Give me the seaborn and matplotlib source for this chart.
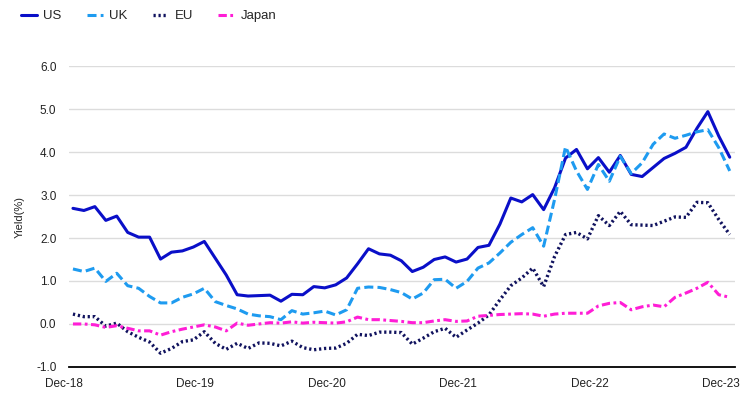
import numpy as np
import pandas as pd
import seaborn as sns
import matplotlib.pyplot as plt
from matplotlib.transforms import ScaledTranslation

# -------------------Data --------------------

# monthly 10y yields, Dec-18 .. Dec-23
us = [2.69, 2.64, 2.73, 2.41, 2.51, 2.13, 2.02, 2.02, 1.51, 1.67,
      1.70, 1.79, 1.92, 1.53, 1.14, 0.68, 0.65, 0.66, 0.67, 0.53,
      0.69, 0.68, 0.87, 0.84, 0.91, 1.07, 1.40, 1.75, 1.63, 1.60,
      1.47, 1.22, 1.32, 1.50, 1.56, 1.44, 1.51, 1.78, 1.83, 2.32,
      2.93, 2.84, 3.01, 2.66, 3.17, 3.86, 4.06, 3.61, 3.87, 3.53,
      3.92, 3.48, 3.43, 3.64, 3.85, 3.97, 4.11, 4.55, 4.94, 4.37,
      3.88]
uk = [1.28, 1.22, 1.30, 0.99, 1.18, 0.89, 0.83, 0.64, 0.49, 0.49,
      0.62, 0.70, 0.83, 0.52, 0.43, 0.35, 0.23, 0.19, 0.17, 0.10,
      0.31, 0.23, 0.26, 0.30, 0.21, 0.33, 0.83, 0.86, 0.85, 0.80,
      0.73, 0.58, 0.72, 1.03, 1.04, 0.83, 0.99, 1.30, 1.42, 1.65,
      1.90, 2.08, 2.24, 1.81, 2.90, 4.12, 3.56, 3.13, 3.71, 3.32,
      3.90, 3.50, 3.75, 4.18, 4.42, 4.32, 4.39, 4.47, 4.52, 4.10,
      3.56]
eu = [0.23, 0.17, 0.17, -0.05, 0.02, -0.18, -0.31, -0.42, -0.68, -0.57,
      -0.41, -0.37, -0.18, -0.45, -0.59, -0.45, -0.57, -0.44, -0.45, -0.51,
      -0.40, -0.55, -0.60, -0.57, -0.56, -0.45, -0.24, -0.27, -0.19, -0.19,
      -0.20, -0.47, -0.33, -0.18, -0.10, -0.31, -0.14, 0.02, 0.21, 0.56,
      0.89, 1.07, 1.30, 0.87, 1.57, 2.08, 2.13, 1.98, 2.52, 2.29,
      2.62, 2.31, 2.30, 2.29, 2.39, 2.49, 2.48, 2.83, 2.82, 2.43,
      2.08]
japan = [0.00, 0.00, -0.02, -0.08, -0.04, -0.10, -0.16, -0.16, -0.26, -0.18,
         -0.12, -0.07, -0.02, -0.07, -0.16, 0.02, -0.03, 0.00, 0.03, 0.02,
         0.05, 0.02, 0.04, 0.03, 0.02, 0.05, 0.16, 0.10, 0.10, 0.08,
         0.06, 0.03, 0.03, 0.07, 0.10, 0.06, 0.07, 0.18, 0.20, 0.22,
         0.23, 0.24, 0.23, 0.18, 0.23, 0.25, 0.25, 0.25, 0.42, 0.48,
         0.50, 0.33, 0.40, 0.44, 0.40, 0.62, 0.72, 0.83, 0.97, 0.68,
         0.62]

tick_labels = ['Dec-18', 'Dec-19', 'Dec-20', 'Dec-21', 'Dec-22', 'Dec-23']
y_ticks = [-1.0, 0.0, 1.0, 2.0, 3.0, 4.0, 5.0, 6.0]

# -------------------Plot --------------------

sns.set_theme(style='white')
plt.rcParams['font.family'] = ['Liberation Sans', 'DejaVu Sans']
plt.rcParams['lines.scale_dashes'] = False

months = np.arange(len(us))
df = pd.DataFrame({'month': months, 'US': us, 'UK': uk, 'EU': eu, 'Japan': japan})

# series name -> (colour, dash pattern)
styles = {
    'US': ('#0a0fc8', None),
    'UK': ('#1e9bf0', (6.5, 3)),
    'EU': ('#10125e', (1.6, 2.0)),
    'Japan': ('#ff1ed6', (6, 2.5, 2, 2.5)),
}

fig = plt.figure(figsize=(7.49, 3.98), dpi=100)
ax = fig.add_axes([0.092, 0.078, 0.889, 0.756])

for name, (col, dash) in styles.items():
    sns.lineplot(data=df, x='month', y=name, ax=ax, color=col, linewidth=2.2, label=name)
    line = ax.lines[-1]
    if dash is not None:
        line.set_dashes(dash)
        if name == 'EU':
            line.set_linewidth(2.4)

ax.set_xlim(-0.37, 60.46)
ax.set_ylim(-1.0, 6.0)
ax.set_yticks(y_ticks)
ax.set_yticklabels([f'{v:.1f}' for v in y_ticks], fontsize=8.5, color='#222222')
ax.set_xticks(months[::12])
ax.set_xticklabels(tick_labels, fontsize=8.5, color='#222222')
ax.tick_params(axis='both', length=0)
ax.tick_params(axis='x', pad=8)
ax.tick_params(axis='y', pad=9)

# labels sit a little left of their month in the original
shift = ScaledTranslation(-9 / 100, 0, fig.dpi_scale_trans)
for lab in ax.get_xticklabels():
    lab.set_transform(lab.get_transform() + shift)

ax.set_xlabel('')
ax.set_ylabel('Yield(%)', fontsize=8, color='#222222', labelpad=8)

ax.grid(axis='y', color='#dcdcdc', linewidth=1)
ax.set_axisbelow(True)
for s in ['top', 'right', 'left']:
    ax.spines[s].set_visible(False)
ax.spines['bottom'].set_color('black')
ax.spines['bottom'].set_linewidth(1.3)
ax.spines['bottom'].set_zorder(5)

ax.legend_.remove()
handles = ax.lines[:4]
fig.legend(handles, list(styles.keys()), loc='upper left', bbox_to_anchor=(0.012, 1.005),
           ncol=4, frameon=False, fontsize=9.5, handlelength=1.2, handletextpad=0.5,
           columnspacing=1.9)

plt.savefig('out.png', dpi=100)
plt.close()
